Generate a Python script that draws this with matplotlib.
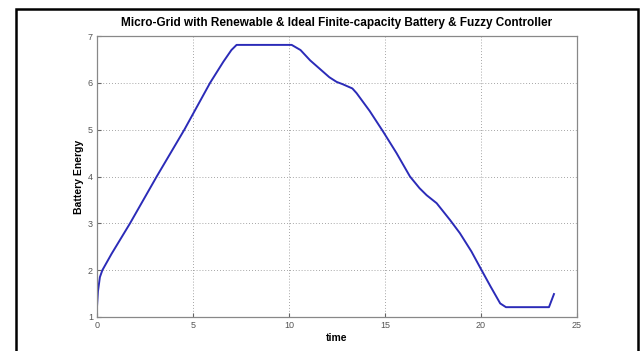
import matplotlib.pyplot as plt
from matplotlib.patches import Rectangle

# battery energy vs time
time = [0.0, 0.05, 0.15, 0.28, 0.76, 1.72, 3.11, 4.55, 5.89, 6.58,
        7.0, 7.27, 8.5, 9.5, 10.14, 10.6, 11.1, 11.6, 12.1, 12.48, 12.8, 13.3, 13.52,
        14.2, 14.9, 15.6, 16.3, 16.8, 17.17, 17.69, 18.39, 18.9, 19.5, 20.03, 20.5,
        21.0, 21.3, 22.0, 23.0, 23.54, 23.8]
energy = [1.22, 1.55, 1.85, 2.0, 2.35, 3.0, 4.0, 5.0, 6.0, 6.45,
          6.7, 6.81, 6.81, 6.81, 6.81, 6.7, 6.48, 6.3, 6.12, 6.02, 5.97, 5.88, 5.78,
          5.4, 4.96, 4.5, 4.0, 3.75, 3.6, 3.43, 3.07, 2.79, 2.4, 2.0, 1.65,
          1.29, 1.21, 1.21, 1.21, 1.21, 1.49]

xticks = [0, 5, 10, 15, 20, 25]
yticks = [1, 2, 3, 4, 5, 6, 7]

plt.rcParams['font.family'] = ['Liberation Sans', 'DejaVu Sans']

fig = plt.figure(figsize=(6.4, 3.51), dpi=100)
ax = fig.add_axes([97 / 640, 1 - 317 / 351, 480 / 640, 281 / 351])

ax.plot(time, energy, color="#2b2bb8", linewidth=1.4)

ax.set_xlim(0, 25)
ax.set_ylim(1, 7)
ax.set_xticks(xticks)
ax.set_yticks(yticks)
ax.grid(True, linestyle=(0, (1, 2.5)), color="#888888", linewidth=0.6)
ax.tick_params(direction="in", length=3, colors="#666666", labelsize=6.5, pad=3)
for lbl in ax.get_xticklabels() + ax.get_yticklabels():
    lbl.set_color("#555555")
for spine in ax.spines.values():
    spine.set_color("#888888")
    spine.set_linewidth(0.9)

ax.set_title("Micro-Grid with Renewable & Ideal Finite-capacity Battery & Fuzzy Controller",
             fontsize=8.5, fontweight="bold", pad=7)
ax.set_xlabel("time", fontsize=7.5, fontweight="bold", labelpad=2)
ax.set_ylabel("Battery Energy", fontsize=7.5, fontweight="bold", labelpad=3)

# black frame around the figure (bottom edge is cut off in the original)
fig.patches.append(Rectangle((15.5 / 640, -0.1), (637.5 - 15.5) / 640, 1.1 - 8.5 / 351,
                             transform=fig.transFigure, fill=False,
                             edgecolor="black", linewidth=1.8))

fig.savefig("out.png", dpi=100, facecolor="white")
